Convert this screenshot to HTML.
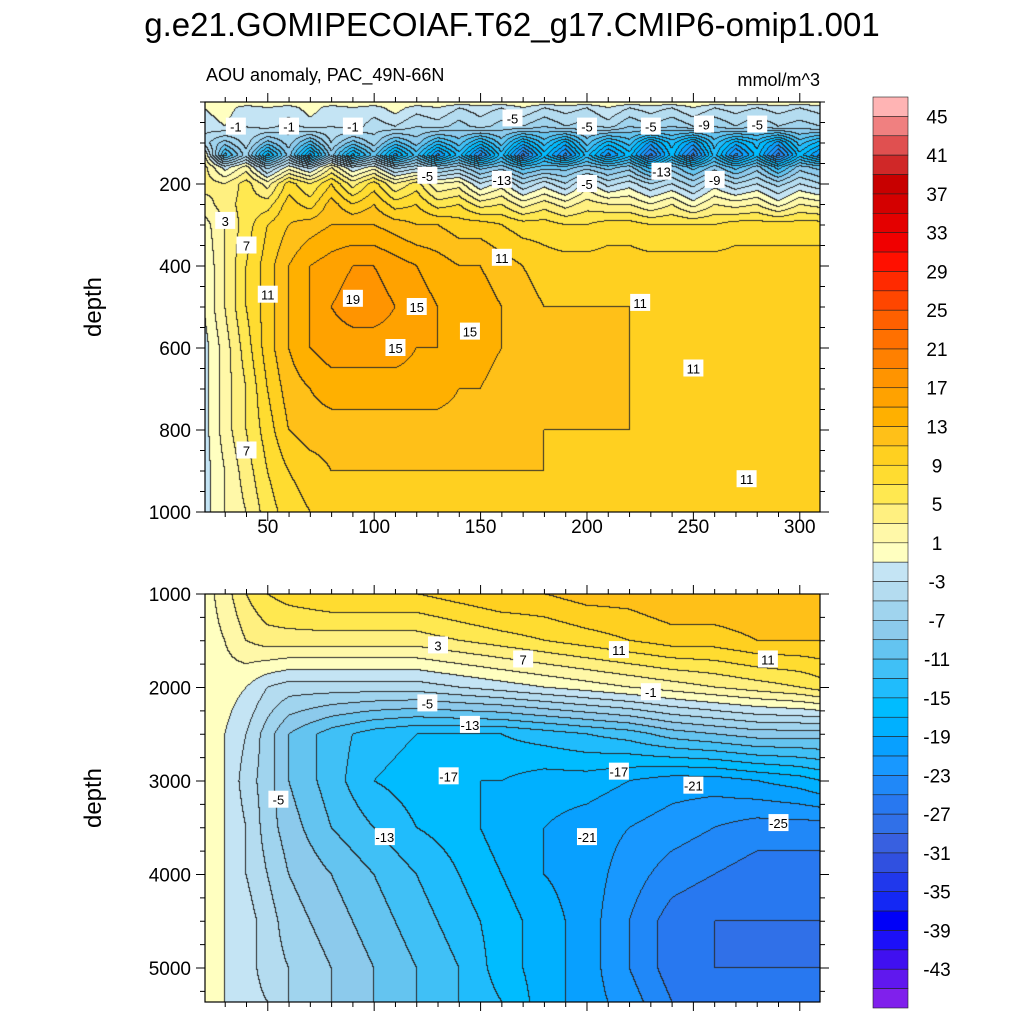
<!DOCTYPE html>
<html><head><meta charset="utf-8">
<style>
body{margin:0;background:#fff;width:1024px;height:1024px;overflow:hidden;font-family:"Liberation Sans",sans-serif;}
#wrap{position:relative;width:1024px;height:1024px;}
canvas{position:absolute;}
svg{position:absolute;left:0;top:0;}
</style></head>
<body><div id="wrap">
<canvas id="c1" width="615" height="410" style="left:205px;top:102px"></canvas>
<canvas id="c2" width="615" height="408" style="left:205px;top:594px"></canvas>
<svg id="s" width="1024" height="1024"></svg>
</div>
<script>
const topXCols=[20,30,40,50,60,70,80,90,100,110,120,130,140,150,160,170,180,190,200,210,220,230,240,250,260,270,280,290,300,310];
const topDepths=[0,15,60,100,130,160,200,250,300,400,500,600,700,800,900,1000];
const topVals=[
[1,1,1,1,1,1,1,1,1,1,1,1,1,1,1,1,1,1,1,1,1,1,1,1,1,1,1,1,1,1],
[-1,0,-2,-1,-2,0,-2,-1,-2,0,-2,-1,-3,-2,-3,-1,-3,-2,-3,-1,-3,-2,-3,-1,-3,-2,-3,-2,-3,-2],
[-2,-1,-3,-2,-4,-2,-3,-2,-4,-3,-5,-4,-6,-4,-6,-5,-7,-5,-6,-4,-7,-5,-7,-5,-7,-5,-7,-5,-6,-5],
[-4,-8,-4,-10,-6,-12,-5,-10,-6,-12,-8,-14,-10,-16,-10,-18,-12,-18,-10,-16,-12,-20,-14,-20,-12,-18,-14,-20,-12,-16],
[2,-14,-6,-18,-8,-20,-8,-18,-10,-20,-12,-22,-14,-24,-14,-26,-16,-24,-14,-22,-16,-26,-16,-26,-14,-24,-16,-26,-16,-22],
[4,-2,2,-6,0,-4,3,-3,0,-6,-4,-8,-6,-10,-8,-12,-10,-10,-8,-10,-8,-14,-8,-12,-8,-12,-8,-14,-8,-10],
[4,3,6,2,8,5,9,4,8,3,6,1,2,-3,0,-5,-2,-5,0,-4,-2,-5,-3,-6,-2,-5,-3,-6,-3,-5],
[2,4,6,6,10,8,12,9,11,8,9,6,7,4,5,2,4,2,4,3,3,1,3,0,3,2,3,0,3,2],
[0,3,6,9,11,12,13,13,13,12,11,11,10,10,9,8,8,7,7,8,8,7,7,7,7,8,8,8,8,8],
[-1,3,7,10,13,15,16,17,17,16,15,14,13,13,12,11,10,10,10,10,10,10,10,10,10,10,10,10,10,10],
[-1,3,7,10,13,15,17,18,18,17,16,15,14,14,13,12,11,11,11,11,11,11,11,11,11,11,11,11,11,11],
[-2,2,6,10,13,15,16,16,16,16,15,15,14,14,13,13,12,12,12,12,11,11,11,11,11,11,11,11,11,11],
[-2,2,5,9,12,13,14,14,14,14,14,14,13,13,12,12,12,12,12,12,11,11,11,11,11,11,11,11,11,11],
[-2,2,5,8,11,12,12,12,12,12,12,12,12,12,12,12,11,11,11,11,11,11,11,11,11,11,11,11,10,10],
[-2,1,4,7,9,10,11,11,11,11,11,11,11,11,11,11,11,11,11,11,11,11,10,10,10,10,10,10,10,10],
[-2,1,3,6,8,9,10,10,10,10,10,10,10,10,10,10,10,10,10,10,10,10,10,10,10,10,10,10,10,10]];
const xCols=[20,30,40,50,60,80,100,120,140,160,180,200,220,240,260,280,300,310];
const botDepths=[1000,1500,2000,2500,3000,3500,4000,4500,5000,5360];
const botVals=[
[0,2,5,7,8,9,9,9,10,11,11,12,12,13,13,13,13,13],
[0,1,3,4,4,4,4,4,5,6,7,8,9,10,10,11,11,11],
[0,0,-1,-3,-4,-4,-4,-4,-3,-2,-1,0,1,2,3,4,5,6],
[0,-1,-3,-6,-9,-12,-14,-15,-15,-15,-14,-13,-12,-10,-9,-8,-8,-8],
[0,-1,-4,-6,-9,-12,-15,-16,-17,-17,-18,-18,-19,-20,-20,-19,-18,-17],
[0,-1,-3,-6,-8,-11,-13,-15,-16,-18,-19,-20,-21,-22,-23,-24,-24,-24],
[0,-1,-3,-5,-7,-9,-11,-13,-15,-17,-19,-20,-22,-24,-25,-26,-26,-26],
[0,-1,-2,-4,-6,-8,-10,-12,-14,-16,-18,-20,-23,-26,-27,-27,-27,-27],
[0,-1,-2,-4,-5,-7,-9,-11,-13,-16,-18,-20,-23,-26,-27,-27,-27,-27],
[0,-1,-2,-3,-5,-7,-9,-11,-13,-15,-18,-20,-22,-25,-26,-26,-26,-26]];
const palette=["#ffb4b4","#f08080","#e05050","#d02828","#c80000","#d40000","#e40000","#f00000","#ff1000","#ff2a00","#ff4600","#ff6000","#ff7000","#ff8000","#ff9400","#ffa200","#ffb000","#ffc018","#ffd020","#ffdc30","#ffe850","#fff080","#fff8a8","#ffffc0","#c4e4f4","#b4dcf0","#a0d4ee","#8ccaec","#64c4f0","#40c0f6","#20bcfc","#00bcff","#00b0ff","#08a0ff","#1898ff","#2088f8","#2878f0","#3070e8","#3860e0","#3050e0","#2038ec","#1428f4","#0000f8","#1c10f8","#4010f0","#6018ee","#8020ec"];
const cbLabels=[45,41,37,33,29,25,21,17,13,9,5,1,-3,-7,-11,-15,-19,-23,-27,-31,-35,-39,-43];
const xTicks=[50,100,150,200,250,300];
const topYTicks=[200,400,600,800,1000];
const botYTicks=[1000,2000,3000,4000,5000];

const X0=20.5,X1=309.5,PL=205,PR=820;
const xs=v=>PL+(v-X0)/(X1-X0)*(PR-PL);
const yTop=d=>102+d*0.41;
const yBot=d=>594+(d-1000)*0.0935;

function hex(h){return [parseInt(h.substr(1,2),16),parseInt(h.substr(3,2),16),parseInt(h.substr(5,2),16)];}
const pal=palette.map(hex);
function idx(v){let i=Math.floor((47-v)/2);return Math.max(0,Math.min(46,i));}
function interp(arr,v){let i=0;while(i<arr.length-2&&v>arr[i+1])i++;let t=(v-arr[i])/(arr[i+1]-arr[i]);return [i,Math.max(0,Math.min(1,t))];}
function render(id,cols,depths,vals,yf){
 const cv=document.getElementById(id),ctx=cv.getContext('2d');
 const W=cv.width,H=cv.height,img=ctx.createImageData(W,H),band=new Int16Array(W*H);
 const top=parseFloat(cv.style.top);
 for(let py=0;py<H;py++){
  let lo=depths[0],hi=depths[depths.length-1];
  for(let k=0;k<40;k++){let m=(lo+hi)/2;if(yf(m)<top+py+0.5)lo=m;else hi=m;}
  const d=(lo+hi)/2;const [j,u]=interp(depths,d);
  for(let px=0;px<W;px++){
   const xv=X0+(px+0.5)/W*(X1-X0);const [i,t]=interp(cols,xv);
   const v=(vals[j][i]*(1-t)+vals[j][i+1]*t)*(1-u)+(vals[j+1][i]*(1-t)+vals[j+1][i+1]*t)*u;
   band[py*W+px]=idx(v);
  }}
 for(let p=0;p<W*H;p++){
  const b=band[p],px=p%W;let c=pal[b];
  if((px<W-1&&band[p+1]!==b)||(p+W<W*H&&band[p+W]!==b))c=[40,40,40];
  img.data[p*4]=c[0];img.data[p*4+1]=c[1];img.data[p*4+2]=c[2];img.data[p*4+3]=255;}
 ctx.putImageData(img,0,0);
}
render('c1',topXCols,topDepths,topVals,yTop);
render('c2',xCols,botDepths,botVals,yBot);

const NS="http://www.w3.org/2000/svg",svg=document.getElementById('s');
function el(tag,a,txt){const e=document.createElementNS(NS,tag);for(const k in a)e.setAttribute(k,a[k]);if(txt!==undefined)e.textContent=txt;svg.appendChild(e);return e;}
let e;
e=el('text',{x:512,y:36,'font-size':33,'text-anchor':'middle',fill:'#000'},'g.e21.GOMIPECOIAF.T62_g17.CMIP6-omip1.001');


e=el('text',{x:206,y:81,'font-size':18,fill:'#000'},'AOU anomaly, PAC_49N-66N');


e=el('text',{x:820,y:86,'font-size':18,'text-anchor':'end',fill:'#000'},'mmol/m^3');


[[102,512,yTop,topYTicks,true,'upper'],[594,1002,yBot,botYTicks,false,'lower']].forEach(([t,b,yf,yt,lab,nm])=>{
 e=el('rect',{x:PL,y:t,width:PR-PL,height:b-t,fill:'none',stroke:'#000','stroke-width':1.2});
 
 
 for(let v=0;v<=310;v+=10){if(v<X0||v>X1)continue;const L=v%50===0?9:5;const x=xs(v);
  el('line',{x1:x,x2:x,y1:b,y2:b+L,stroke:'#000'});el('line',{x1:x,x2:x,y1:t,y2:t-L,stroke:'#000'});}
 if(lab)xTicks.forEach(v=>{e=el('text',{x:xs(v),y:533,'font-size':19,'text-anchor':'middle'},String(v));
  
  });
 const step=lab?50:250;const d0=lab?0:1000,d1=lab?1000:5300;
 for(let d=d0;d<=d1;d+=step){const y=yf(d);if(y<t-0.5||y>b+0.5)continue;const L=yt.includes(d)?9:5;
  el('line',{x1:PL,x2:PL-L,y1:y,y2:y,stroke:'#000'});el('line',{x1:PR,x2:PR+L,y1:y,y2:y,stroke:'#000'});}
 yt.forEach(d=>{e=el('text',{x:PL-14,y:yf(d)+7,'font-size':19,'text-anchor':'end'},String(d));
  
  });
 const cy=(t+b)/2;
 e=el('text',{x:101,y:cy,'font-size':24,'text-anchor':'middle',transform:`rotate(-90 101 ${cy})`},'depth');
 
 
});
const CB0=97,CBH=911/47;
palette.forEach((c,i)=>{e=el('rect',{x:873,y:CB0+i*CBH,width:35,height:CBH,fill:c,stroke:'#222','stroke-width':0.6});
 
 });
cbLabels.forEach(v=>{const i=(47-v)/2;e=el('text',{x:937,y:CB0+i*CBH+7,'font-size':19,'text-anchor':'middle'},String(v));
 
 });
const labs=[[110,600,'15',yTop],[90,480,'19',yTop],[145,560,'15',yTop],[250,650,'11',yTop],[275,920,'11',yTop],[40,850,'7',yTop],[50,470,'11',yTop],[30,290,'3',yTop],[40,350,'7',yTop],[120,500,'15',yTop],[160,380,'11',yTop],[225,490,'11',yTop],
[35,60,'-1',yTop],[60,60,'-1',yTop],[90,60,'-1',yTop],[165,40,'-5',yTop],[200,60,'-5',yTop],[230,60,'-5',yTop],[255,55,'-9',yTop],[280,55,'-5',yTop],[160,190,'-13',yTop],[235,170,'-13',yTop],[125,180,'-5',yTop],[200,200,'-5',yTop],[260,190,'-9',yTop],
[130,1550,'3',yBot],[170,1700,'7',yBot],[125,2170,'-5',yBot],[135,2950,'-17',yBot],[215,2900,'-17',yBot],[250,3050,'-21',yBot],[290,3450,'-25',yBot],[200,3600,'-21',yBot],[55,3200,'-5',yBot],[105,3600,'-13',yBot],[215,1600,'11',yBot],[285,1700,'11',yBot],[230,2050,'-1',yBot],[145,2400,'-13',yBot]];
labs.forEach(([x,d,s,yf])=>{const cx=xs(x),cy=yf(d);
 el('rect',{x:cx-10,y:cy-9,width:20,height:17,fill:'#fff'});
 e=el('text',{x:cx,y:cy+5,'font-size':13,'text-anchor':'middle'},s);
 
 });
</script>
</body></html>
